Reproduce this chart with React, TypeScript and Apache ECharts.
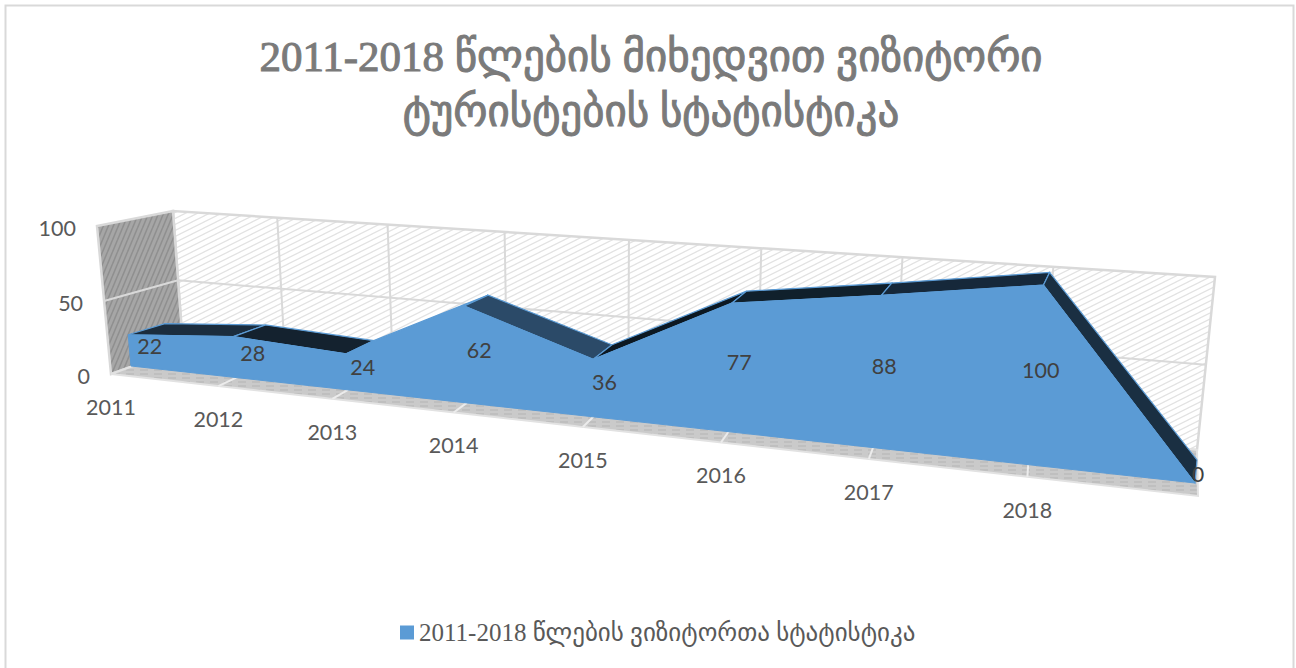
import React, { useEffect, useRef } from "react";
import * as echarts from "echarts";

const categories = ["2011", "2012", "2013", "2014", "2015", "2016", "2017", "2018", ""];
const values = [22, 28, 24, 62, 36, 77, 88, 100, 0];
const valueTicks = [0, 50, 100];
const titleText = "2011-2018 წლების მიხედვით ვიზიტორი\nტურისტების სტატისტიკა";
const seriesName = "2011-2018 წლების ვიზიტორთა სტატისტიკა";
const topFaceColors = ["#1b2d3e", "#14222f", "#5b9bd5", "#2b4a68", "#0c1822", "#10202c", "#16283a", "#1a2f42"];

const W = 1296;
const H = 668;
type P = [number, number];

// square -> quad projective map (u right, v up)
function planeMap(bl: P, br: P, tr: P, tl: P) {
  const dx1 = br[0] - tr[0], dx2 = tl[0] - tr[0], sx = bl[0] - br[0] + tr[0] - tl[0];
  const dy1 = br[1] - tr[1], dy2 = tl[1] - tr[1], sy = bl[1] - br[1] + tr[1] - tl[1];
  const den = dx1 * dy2 - dx2 * dy1;
  const g = (sx * dy2 - dx2 * sy) / den;
  const h = (dx1 * sy - sx * dy1) / den;
  const a = br[0] - bl[0] + g * br[0], b = tl[0] - bl[0] + h * tl[0], c = bl[0];
  const d = br[1] - bl[1] + g * br[1], e = tl[1] - bl[1] + h * tl[1], f = bl[1];
  return (u: number, v: number): P => {
    const w = g * u + h * v + 1;
    return [(a * u + b * v + c) / w, (d * u + e * v + f) / w];
  };
}

const wallFront = planeMap([111, 374], [1198, 496], [1221, 306], [97, 226]);
const areaFront = planeMap([131, 366], [1195, 483], [1217, 297], [118, 221]);
const areaBack = planeMap([167, 353], [1197, 460], [1219, 283], [157, 217]);
const wallBack = planeMap([183, 348], [1197, 450], [1215, 277], [173, 211]);

function tile(w: number, h: number, bg: string, fg: string, lw: number, seg: number[][]) {
  const c = document.createElement("canvas");
  c.width = w;
  c.height = h;
  const x = c.getContext("2d")!;
  x.fillStyle = bg;
  x.fillRect(0, 0, w, h);
  x.strokeStyle = fg;
  x.lineWidth = lw;
  seg.forEach((s) => {
    x.beginPath();
    x.moveTo(s[0], s[1]);
    x.lineTo(s[2], s[3]);
    x.stroke();
  });
  return { image: c, repeat: "repeat" };
}

const LABEL_FONT = "Lato, Carlito, sans-serif";
const GRID = "#d9d9d9";

export default function App() {
  const ref = useRef<HTMLDivElement>(null);
  useEffect(() => {
    document.body.style.margin = "0";
    const chart = echarts.init(ref.current!, undefined, { renderer: "svg" });

    const backHatch = tile(12, 6, "#ffffff", "#e2e2e2", 1.2, [[-12, 6, 12, -6], [0, 6, 12, 0], [0, 12, 24, 0]]);
    const sideHatch = tile(5, 12, "#a6a6a6", "#8f8f8f", 1.5, [[-2.5, 12, 2.5, 0], [2.5, 12, 7.5, 0]]);
    const floorHatch = tile(14, 4, "#cacaca", "#b4b4b4", 1, [[0, 2, 8, 2]]);

    const norm = (api: any, t: number, v: number): [number, number] => {
      const c = api.coord([t, v]);
      return [c[0] / W, 1 - c[1] / H];
    };
    const last = categories.length - 1;

    const shell = (params: any, api: any) => {
      if (params.dataIndex !== 0) return null;
      const children: any[] = [];
      const uEnd = norm(api, last, 0)[0];
      const vTop = norm(api, 0, 100)[1];
      const poly = (pts: P[], style: any) => ({ type: "polygon", shape: { points: pts }, style });
      const line = (a: P, b: P, w = 2) => ({
        type: "line",
        shape: { x1: a[0], y1: a[1], x2: b[0], y2: b[1] },
        style: { stroke: GRID, lineWidth: w },
      });
      children.push(
        poly([wallBack(0, 0), wallBack(uEnd, 0), wallBack(uEnd, vTop), wallBack(0, vTop)], { fill: backHatch, stroke: GRID, lineWidth: 2.5 }),
        poly([wallFront(0, 0), wallBack(0, 0), wallBack(0, vTop), wallFront(0, vTop)], { fill: sideHatch, stroke: GRID, lineWidth: 2.5 }),
        poly([wallFront(0, 0), wallFront(uEnd, 0), wallBack(uEnd, 0), wallBack(0, 0)], { fill: floorHatch, stroke: "#e2e2e2", lineWidth: 2 })
      );
      for (let i = 1; i < last; i++) {
        const u = norm(api, i, 0)[0];
        children.push(line(wallBack(u, 0), wallBack(u, vTop)));
        children.push({
          type: "line",
          shape: { x1: wallFront(u, 0)[0], y1: wallFront(u, 0)[1], x2: areaFront(u, 0)[0], y2: areaFront(u, 0)[1] },
          style: { stroke: "#ececec", lineWidth: 2 },
        });
      }
      valueTicks.forEach((tick) => {
        const v = norm(api, 0, tick)[1];
        if (tick !== 0 && tick !== 100) {
          children.push(line(wallFront(0, v), wallBack(0, v)), line(wallBack(0, v), wallBack(uEnd, v)));
        }
        const p = wallFront(0, v);
        children.push({
          type: "text",
          style: { text: String(tick), x: p[0] - 21, y: p[1] + 2, align: "right", verticalAlign: "middle", font: `21.5px ${LABEL_FONT}`, fill: "#595959" },
        });
      });
      categories.forEach((cat, i) => {
        if (!cat) return;
        const p = wallFront(norm(api, i, 0)[0], 0);
        children.push({
          type: "text",
          style: { text: cat, x: p[0], y: p[1] + 33, align: "center", verticalAlign: "middle", font: `21.5px ${LABEL_FONT}`, fill: "#595959" },
        });
      });
      return { type: "group", children };
    };

    const topFace = (params: any, api: any) => {
      const i = params.dataIndex;
      if (i >= last) return null;
      const a = norm(api, api.value(0, i), api.value(1, i));
      const b = norm(api, api.value(0, i + 1), api.value(1, i + 1));
      return {
        type: "polygon",
        shape: { points: [areaFront(a[0], a[1]), areaFront(b[0], b[1]), areaBack(b[0], b[1]), areaBack(a[0], a[1])] },
        style: { fill: topFaceColors[i], stroke: "#5b9bd5", lineWidth: 1.2 },
      };
    };

    const front = (params: any, api: any) => {
      if (params.dataIndex !== 0) return null;
      const pts: P[] = [];
      for (let i = 0; i <= last; i++) {
        const n = norm(api, api.value(0, i), api.value(1, i));
        pts.push(areaFront(n[0], n[1]));
      }
      pts.push(areaFront(norm(api, last, 0)[0], 0), areaFront(0, 0));
      return { type: "polygon", shape: { points: pts }, style: { fill: "#5b9bd5", stroke: "#5b9bd5", lineWidth: 1 } };
    };

    const label = (params: any, api: any) => {
      const n = norm(api, api.value(0), api.value(1) / 2);
      const f = areaFront(n[0], n[1]);
      const b = areaBack(n[0], n[1]);
      return {
        type: "text",
        style: {
          text: String(api.value(1)),
          x: (f[0] + b[0]) / 2 + 2,
          y: (f[1] + b[1]) / 2 + 2,
          align: "center",
          verticalAlign: "middle",
          font: `21.5px ${LABEL_FONT}`,
          fill: "#404040",
        },
      };
    };

    const data = values.map((v, i) => [i, v]);
    const base = { type: "custom", data, encode: { x: 0, y: 1 }, silent: true, clip: false };

    chart.setOption({
      animation: false,
      backgroundColor: "#ffffff",
      title: {
        text: titleText,
        left: 646,
        top: 24,
        textAlign: "center",
        textStyle: {
          fontFamily: '"Liberation Serif","DejaVu Sans",serif',
          fontSize: 43,
          lineHeight: 55,
          fontWeight: "normal",
          color: "#7a7a7a",
          textBorderColor: "#7a7a7a",
          textBorderWidth: 1,
        },
      },
      legend: {
        data: [seriesName],
        bottom: 18,
        left: 395,
        icon: "rect",
        itemWidth: 14,
        itemHeight: 14,
        itemGap: 6,
        textStyle: { fontFamily: '"Liberation Serif","DejaVu Sans",serif', fontSize: 25, color: "#595959" },
        selectedMode: false,
      },
      grid: { left: 0, right: 0, top: 0, bottom: 0 },
      xAxis: { type: "category", data: categories, boundaryGap: false, show: false },
      yAxis: { type: "value", min: 0, max: 100, interval: 50, show: false },
      graphic: [
        { type: "rect", shape: { x: 5.5, y: 5.5, width: 1288, height: 700 }, style: { fill: "none", stroke: "#d9d9d9", lineWidth: 2 }, silent: true },
      ],
      series: [
        { ...base, name: "shell", renderItem: shell, z: 1 },
        { ...base, name: "top", renderItem: topFace, z: 2 },
        { ...base, name: seriesName, renderItem: front, z: 3, itemStyle: { color: "#5b9bd5" } },
        { ...base, name: "labels", renderItem: label, z: 4 },
      ],
    });
    return () => chart.dispose();
  }, []);
  return <div ref={ref} style={{ width: W, height: H, position: "absolute", left: 0, top: 0 }} />;
}
